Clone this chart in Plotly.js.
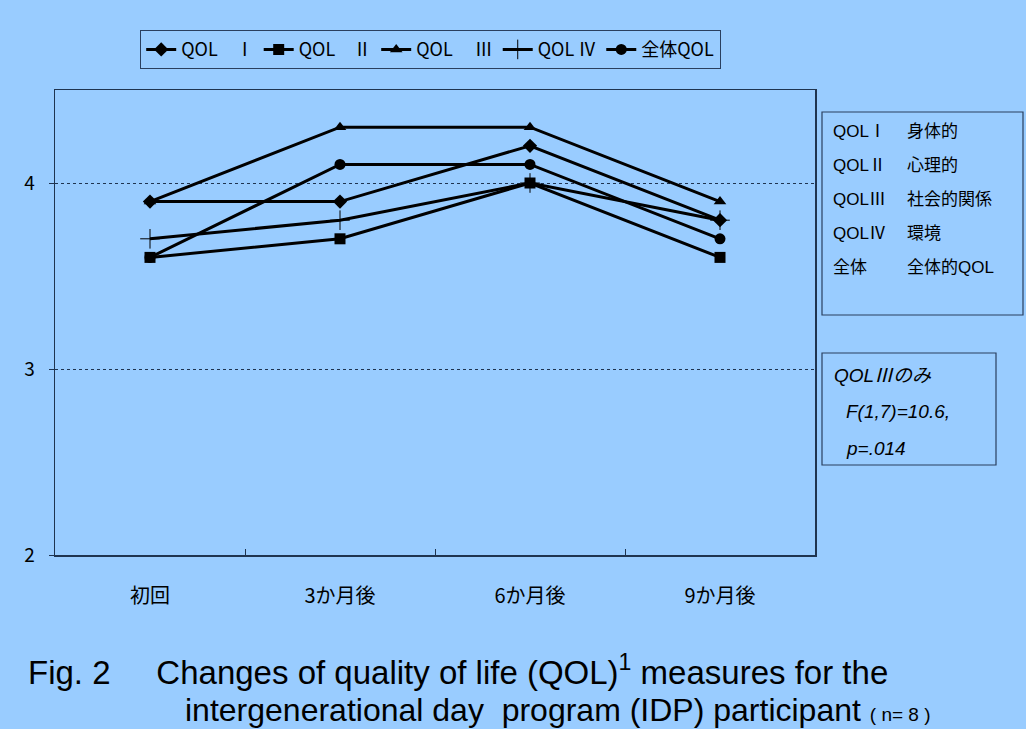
<!DOCTYPE html>
<html><head><meta charset="utf-8">
<script src="https://cdn.plot.ly/plotly-3.0.1.min.js"></script>
<style>html,body{margin:0;padding:0;background:#99CCFF;}#chart{width:1026px;height:729px;}</style>
</head><body><div id="chart"></div>
<script>
const categories = ["初回", "3か月後", "6か月後", "9か月後"];
const qol1 = [3.9, 3.9, 4.2, 3.8];
const qol2 = [3.6, 3.7, 4.0, 3.6];
const qol3 = [3.9, 4.3, 4.3, 3.9];
const qol4 = [3.7, 3.8, 4.0, 3.8];
const qolAll = [3.6, 4.1, 4.1, 3.7];
const seriesNames = ["QOL　Ⅰ", "QOL　Ⅱ", "QOL　 Ⅲ", "QOL Ⅳ", "全体QOL"];
const defLabels = ["QOLⅠ", "QOLⅡ", "QOLⅢ", "QOLⅣ", "全体"];
const defTexts = ["身体的", "心理的", "社会的関係", "環境", "全体的QOL"];
const statLines = ["QOLⅢのみ", "F(1,7)=10.6,", "p=.014"];
const caption1 = "Fig. 2     Changes of quality of life (QOL)<sup>1</sup> measures for the";
const caption2 = "intergenerational day  program (IDP) participant <span style='font-size:19px'>( n= 8 )</span>";

const W = 1026, H = 729, L = 55, R = 815, T = 90, B = 555;
const px = x => (x - L) / (R - L);
const py = y => (B - y) / (B - T);

const symbols = ["diamond", "square", "triangle-up", "cross-thin-open", "circle"];
const sizes = [11, 11, 11, 14, 11];
const all = [qol1, qol2, qol3, qol4, qolAll];
const traces = all.map((vals, i) => ({
  x: categories, y: vals, name: seriesNames[i], type: "scatter", mode: "lines+markers",
  line: {color: "#000000", width: 3},
  marker: {symbol: symbols[i], size: sizes[i], color: "#000000",
           line: {color: "#000000", width: i === 3 ? 1 : 0}}
}));

const jp = "Noto Sans CJK JP, sans-serif";
const sans = "Liberation Sans, Noto Sans CJK JP, sans-serif";
const cap = "Liberation Sans, Arial, sans-serif";
const annotations = [];
defLabels.forEach((t, i) => {
  const y = 131 + i * 34;
  annotations.push({xref: "paper", yref: "paper", x: px(831), y: py(y), xanchor: "left", yanchor: "middle",
    text: t, showarrow: false, font: {family: sans, size: 17, color: "#000"}});
  annotations.push({xref: "paper", yref: "paper", x: px(905), y: py(y), xanchor: "left", yanchor: "middle",
    text: defTexts[i], showarrow: false, font: {family: sans, size: 17, color: "#000"}});
});
[[832, 375], [844, 411], [844, 449]].forEach((p, i) => {
  annotations.push({xref: "paper", yref: "paper", x: px(p[0]), y: py(p[1]), xanchor: "left", yanchor: "middle",
    text: "<i>" + statLines[i] + "</i>", showarrow: false, font: {family: sans, size: 19, color: "#000"}});
});
annotations.push({xref: "paper", yref: "paper", x: px(26), y: py(670), xanchor: "left", yanchor: "middle",
  text: caption1, showarrow: false, font: {family: cap, size: 33, color: "#000"}});
annotations.push({xref: "paper", yref: "paper", x: px(183), y: py(710), xanchor: "left", yanchor: "middle",
  text: caption2, showarrow: false, font: {family: cap, size: 32, color: "#000"}});

const shapes = [
  {type: "rect", xref: "paper", yref: "paper", x0: px(822), x1: px(1023), y0: py(315), y1: py(112),
   line: {color: "#2a3f5f", width: 1.2}, fillcolor: "rgba(0,0,0,0)"},
  {type: "rect", xref: "paper", yref: "paper", x0: px(822), x1: px(996), y0: py(465), y1: py(353),
   line: {color: "#2a3f5f", width: 1.2}, fillcolor: "rgba(0,0,0,0)"}
];

const layout = {
  width: W, height: H,
  paper_bgcolor: "#99CCFF", plot_bgcolor: "#99CCFF",
  margin: {l: L, r: W - R, t: T, b: H - B, pad: 0},
  showlegend: true,
  legend: {orientation: "h", x: px(140), y: py(30), xanchor: "left", yanchor: "top",
    bgcolor: "rgba(0,0,0,0)", bordercolor: "#2a3f5f", borderwidth: 1.2,
    font: {family: jp, size: 18, color: "#000"}, itemwidth: 30, tracegroupgap: 0,
    traceorder: "normal"},
  xaxis: {type: "category", range: [-0.5, 3.5], showline: true, mirror: true, linecolor: "#1f3450", linewidth: 1.5,
    ticks: "inside", tickson: "boundaries", ticklen: 6, tickcolor: "#1f3450", showgrid: false, zeroline: false,
    tickfont: {family: jp, size: 20, color: "#000"}, ticklabelstandoff: 22, fixedrange: true},
  yaxis: {range: [2, 4.5], tickvals: [2, 3, 4], ticktext: ["2", "3", "4"], showline: true, mirror: true,
    linecolor: "#1f3450", linewidth: 1.5, ticks: "outside", ticklen: 5, tickcolor: "#1f3450",
    showgrid: true, gridcolor: "#1f3450", griddash: "dot", gridwidth: 1, zeroline: false,
    tickfont: {family: jp, size: 19, color: "#000"}, ticklabelstandoff: 10},
  annotations: annotations, shapes: shapes
};
Plotly.newPlot("chart", traces, layout, {displayModeBar: false, staticPlot: true});
</script></body></html>
